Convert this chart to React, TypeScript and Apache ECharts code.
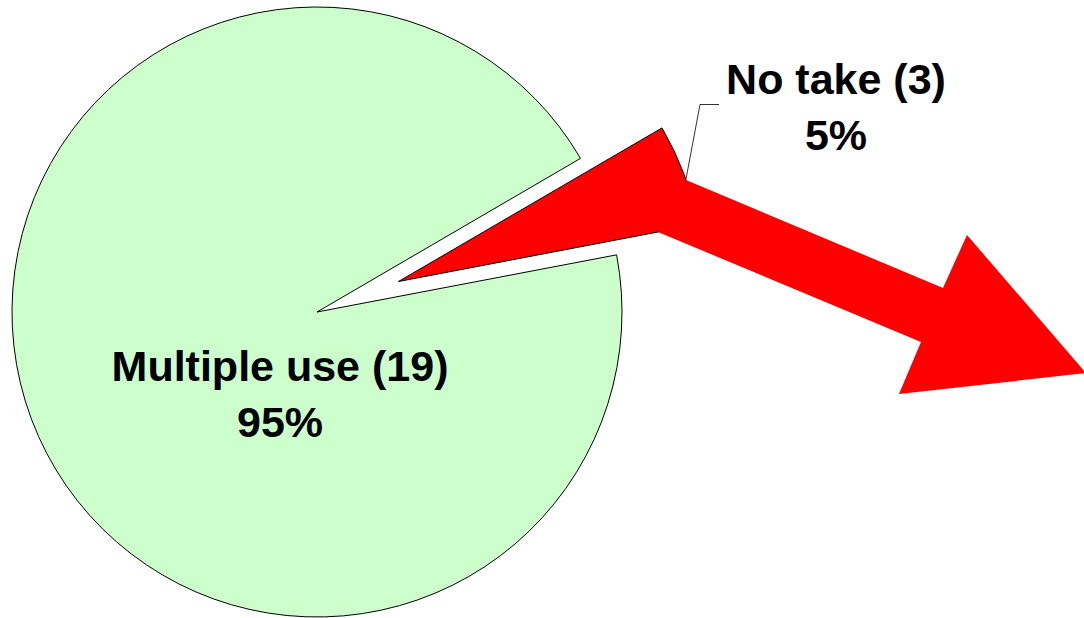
import React, { useEffect, useRef } from "react";
import * as echarts from "echarts";

const categories = ["Multiple use (19)", "No take (3)"];
const values = [94.6, 5.4];
const colors = ["#CCFFCC", "#FF0000"];
const explodedIndex = 1;
const labelPositions = [
  [280, 394],
  [836, 107],
];

export default function App() {
  const ref = useRef<HTMLDivElement>(null);
  useEffect(() => {
    if (!ref.current) return;
    const chart = echarts.init(ref.current, undefined, { renderer: "svg" });
    const makeData = (showExploded: boolean) =>
      categories.map((name, i) => {
        const visible = (i === explodedIndex) === showExploded;
        return {
          name,
          value: values[i],
          itemStyle: visible
            ? { color: colors[i], borderColor: "#000000", borderWidth: 1 }
            : { color: "transparent", borderColor: "transparent", borderWidth: 0 },
          label: { show: visible },
        };
      });
    const baseSeries = {
      type: "pie",
      radius: 305,
      startAngle: 10.8,
      clockwise: true,
      avoidLabelOverlap: false,
      silent: true,
      emphasis: { disabled: true },
      label: {
        show: true,
        position: "inside",
        color: "#000000",
        fontFamily: "'Liberation Sans', Arial, sans-serif",
        fontWeight: "bold",
        fontSize: 43,
        lineHeight: 56,
        align: "center",
        formatter: (p: any) => `${p.name}\n${Math.round(p.percent)}%`,
      },
      labelLine: { show: false },
      labelLayout: (p: any) => ({
        x: labelPositions[p.dataIndex][0],
        y: labelPositions[p.dataIndex][1],
        align: "center",
        verticalAlign: "middle",
      }),
    };
    chart.setOption({
      animation: false,
      backgroundColor: "#ffffff",
      series: [
        { ...baseSeries, center: [317, 312], data: makeData(false) },
        { ...baseSeries, center: [398.5, 281.5], data: makeData(true) },
      ],
      graphic: [
        {
          type: "polygon",
          z: 100,
          silent: true,
          shape: {
            points: [
              [686, 180],
              [943, 288],
              [967, 235],
              [1086, 373],
              [899, 394],
              [921, 342],
              [658, 232],
            ],
          },
          style: { fill: "#FF0000", stroke: "none" },
        },
        {
          type: "polyline",
          z: 101,
          silent: true,
          shape: {
            points: [
              [686, 179],
              [700, 104.5],
              [719, 104.5],
            ],
          },
          style: { stroke: "#333333", lineWidth: 1, fill: "none" },
        },
      ],
    });
    return () => chart.dispose();
  }, []);
  return (
    <div
      ref={ref}
      style={{ position: "fixed", left: 0, top: 0, width: 1084, height: 618 }}
    />
  );
}
